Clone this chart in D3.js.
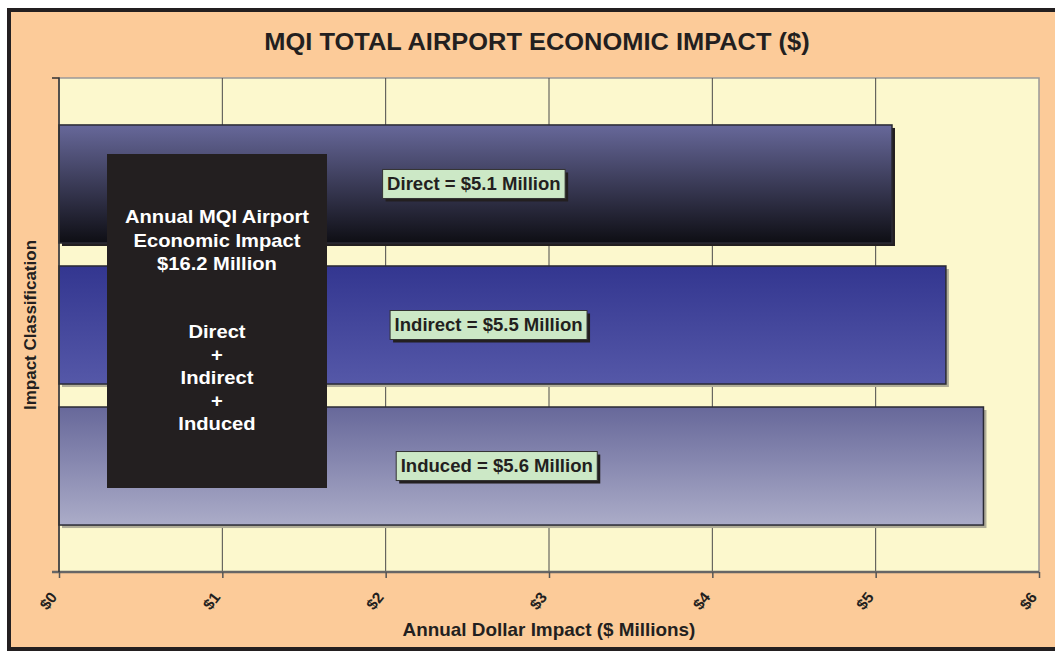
<!DOCTYPE html>
<html lang="en">
	<head>
		<meta charset="utf-8">
		<title>MQI total airport economic impact</title>
		<script type="text/javascript" src="https://cdnjs.cloudflare.com/ajax/libs/d3/7.8.5/d3.min.js"></script>
		<style type="text/css">
			body { margin:0; background:#ffffff; }
			text { font-family:"Liberation Sans", Arial, sans-serif; font-weight:bold; }
		</style>
	</head>
	<body>
		<script type="text/javascript">
			// data
			var categories = ["Direct", "Indirect", "Induced"];
			var impactValues = [5.10, 5.43, 5.66];          // $ millions (bar lengths)
			var labelTexts = ["Direct = $5.1 Million", "Indirect = $5.5 Million", "Induced = $5.6 Million"];
			var labelCenters = [2.54, 2.63, 2.68];          // where the callouts sit, in $ millions
			var xTicks = [0, 1, 2, 3, 4, 5, 6];
			var xTickLabels = ["$0", "$1", "$2", "$3", "$4", "$5", "$6"];
			var boxLines = ["Annual MQI Airport", "Economic Impact", "$16.2 Million", "",
							"Direct", "+", "Indirect", "+", "Induced"];

			var w = 1055;
			var h = 651;
			var margin = {top: 78, right: 16, bottom: 79, left: 59};

			var svg = d3.select("body")
						.append("svg")
						.attr("width", w)
						.attr("height", h);

			// text that is a bit wider than the font, like the original
			function wideText(parent, str, cx, cy, size, sx, fill) {
				var g = parent.append("g")
							  .attr("transform", "translate(" + cx + "," + cy + ") scale(" + sx + ",1)");
				return g.append("text")
						.text(str)
						.attr("text-anchor", "middle")
						.attr("font-size", size + "px")
						.attr("fill", fill);
			}

			// gradients for the three bars
			var defs = svg.append("defs");
			var grads = [
				{id: "g0", top: "#67689a", bottom: "#0e0e14"},
				{id: "g1", top: "#333690", bottom: "#5558a8"},
				{id: "g2", top: "#67689a", bottom: "#abacc8"}
			];
			grads.forEach(function(g) {
				var lg = defs.append("linearGradient")
							.attr("id", g.id)
							.attr("x1", 0).attr("y1", 0)
							.attr("x2", 0).attr("y2", 1);
				lg.append("stop").attr("offset", "0%").attr("stop-color", g.top);
				lg.append("stop").attr("offset", "100%").attr("stop-color", g.bottom);
			});

			// outer frame
			svg.append("rect")
			   .attr("x", 9).attr("y", 10)
			   .attr("width", w + 20).attr("height", h - 12)
			   .attr("fill", "#fccb99")
			   .attr("stroke", "#231f20")
			   .attr("stroke-width", 4);

			var x = d3.scaleLinear()
					  .domain([0, 6])
					  .range([margin.left, w - margin.right]);

			var y = d3.scaleBand()
					  .domain(categories)
					  .range([margin.top, h - margin.bottom])
					  .paddingInner(0.163)
					  .paddingOuter(0.333);

			var plotTop = margin.top, plotBottom = h - margin.bottom;

			// plot area
			svg.append("rect")
			   .attr("x", x(0)).attr("y", plotTop)
			   .attr("width", x(6) - x(0)).attr("height", plotBottom - plotTop)
			   .attr("fill", "#fcf8cd")
			   .attr("stroke", "#999999")
			   .attr("stroke-width", 1.5);

			// vertical gridlines
			svg.selectAll("line.grid")
			   .data(xTicks.slice(1, -1))
			   .enter()
			   .append("line")
			   .attr("class", "grid")
			   .attr("x1", function(d) { return x(d); })
			   .attr("x2", function(d) { return x(d); })
			   .attr("y1", plotTop)
			   .attr("y2", plotBottom)
			   .attr("stroke", "#4a4a4a")
			   .attr("stroke-width", 1);

			// bar shadows
			svg.selectAll("rect.shadow")
			   .data(impactValues)
			   .enter()
			   .append("rect")
			   .attr("class", "shadow")
			   .attr("x", x(0) + 3)
			   .attr("y", function(d, i) { return y(categories[i]) + 3; })
			   .attr("width", function(d) { return x(d) - x(0); })
			   .attr("height", y.bandwidth())
			   .attr("fill", function(d, i) { return i == 0 ? "#231f20" : "#b0ad98"; });

			// bars
			svg.selectAll("rect.bar")
			   .data(impactValues)
			   .enter()
			   .append("rect")
			   .attr("class", "bar")
			   .attr("x", x(0))
			   .attr("y", function(d, i) { return y(categories[i]); })
			   .attr("width", function(d) { return x(d) - x(0); })
			   .attr("height", y.bandwidth())
			   .attr("fill", function(d, i) { return "url(#" + grads[i].id + ")"; })
			   .attr("stroke", "#2a2a33")
			   .attr("stroke-width", 1.5);

			// axes
			var xAxis = d3.axisBottom(x)
						  .tickValues(xTicks)
						  .tickSize(6)
						  .tickFormat(function(d, i) { return xTickLabels[i]; });

			var gx = svg.append("g")
						.attr("transform", "translate(0," + plotBottom + ")")
						.call(xAxis);
			gx.select(".domain").attr("stroke", "#666666").attr("stroke-width", 2.5)
			  .attr("d", "M" + (x(0) - 7) + ",0H" + x(6));
			gx.selectAll(".tick line").attr("stroke", "#555555").attr("stroke-width", 1.5);
			gx.selectAll(".tick text")
			  .attr("font-size", "15.5px")
			  .attr("font-family", "Liberation Sans, Arial, sans-serif")
			  .attr("font-weight", "bold")
			  .attr("fill", "#231f20")
			  .attr("text-anchor", "end")
			  .attr("dy", "0.35em")
			  .attr("y", 0)
			  .attr("transform", "translate(-6,22) rotate(-52)");

			// left axis line with end ticks
			svg.append("path")
			   .attr("d", "M" + (x(0) - 7) + "," + plotTop + "H" + x(0) + "V" + plotBottom)
			   .attr("fill", "none")
			   .attr("stroke", "#333333")
			   .attr("stroke-width", 1.5);

			// callout labels
			var callouts = svg.selectAll("g.callout")
							  .data(labelTexts)
							  .enter()
							  .append("g")
							  .attr("class", "callout")
							  .attr("transform", function(d, i) {
								  return "translate(" + x(labelCenters[i]) + "," + (y(categories[i]) + y.bandwidth() / 2) + ")";
							  });

			callouts.append("rect").attr("class", "cshadow");
			callouts.append("rect").attr("class", "cbox");
			callouts.each(function(d) {
				var g = d3.select(this);
				var t = wideText(g, d, 0, 0, 17.5, 1.06, "#231f20").attr("dy", "0.36em");
				var tw = t.node().getComputedTextLength() * 1.06;
				var bw = tw + 9, bh = 29;
				g.select("rect.cshadow")
				 .attr("x", -bw / 2 + 3).attr("y", -bh / 2 + 3)
				 .attr("width", bw).attr("height", bh)
				 .attr("fill", "#231f20");
				g.select("rect.cbox")
				 .attr("x", -bw / 2).attr("y", -bh / 2)
				 .attr("width", bw).attr("height", bh)
				 .attr("fill", "#cce8c6")
				 .attr("stroke", "#333333")
				 .attr("stroke-width", 1);
			});

			// black summary box
			svg.append("rect")
			   .attr("x", 107).attr("y", 154)
			   .attr("width", 220).attr("height", 334)
			   .attr("fill", "#231f20");

			boxLines.forEach(function(d, i) {
				var ty = i < 3 ? 223 + i * 23.5 : 246 + i * 23;
				wideText(svg, d, 217, ty, 18, 1.12, "#ffffff");
			});

			// titles
			wideText(svg, "MQI TOTAL AIRPORT ECONOMIC IMPACT ($)", 537, 50, 24, 1.06, "#231f20");
			wideText(svg, "Annual Dollar Impact ($ Millions)", 549, 636, 17.5, 1.08, "#231f20");

			svg.append("text")
			   .text("Impact Classification")
			   .attr("transform", "translate(36,325) rotate(-90)")
			   .attr("text-anchor", "middle")
			   .attr("font-size", "17px")
			   .attr("fill", "#231f20");
		</script>
	</body>
</html>
